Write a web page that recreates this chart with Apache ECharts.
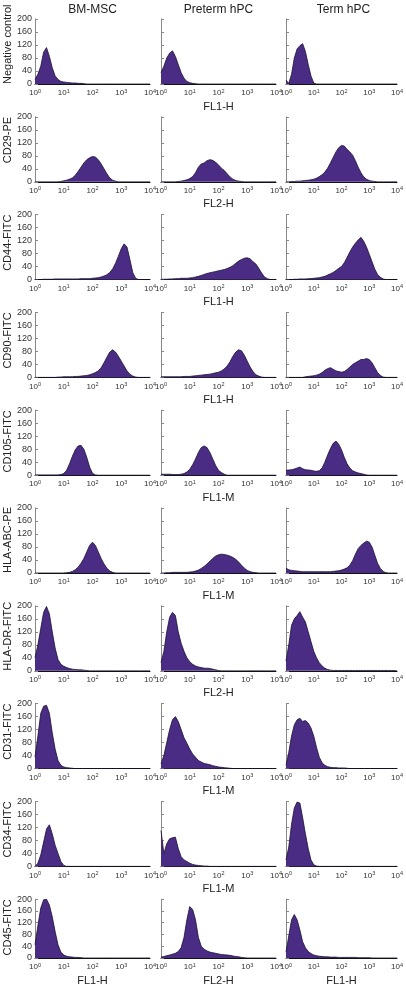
<!DOCTYPE html>
<html><head><meta charset="utf-8">
<script src="https://cdn.jsdelivr.net/npm/echarts@6/dist/echarts.min.js"></script>
<style>html,body{margin:0;padding:0;background:#fff}#c{width:406px;height:987px}</style>
</head><body><div id="c"></div>
<script>
// log10 of fluorescence channel (x positions of histogram samples)
const exponents = [0,0.1,0.2,0.3,0.4,0.5,0.6,0.7,0.8,0.9,1.0,1.1,1.2,1.3,1.4,1.5,1.6,1.7,1.8,1.9,2.0,2.1,2.2,2.3,2.4,2.5,2.6,2.7,2.8,2.9,3.0,3.1,3.2,3.3,3.4,3.5,3.6,3.7,3.8,3.9,4.0];
const columnTitles = ['BM-MSC', 'Preterm hPC', 'Term hPC'];
const rowLabels = ['Negative control','CD29-PE','CD44-FITC','CD90-FITC','CD105-FITC','HLA-ABC-PE','HLA-DR-FITC','CD31-FITC','CD34-FITC','CD45-FITC'];
const middleChannel = ['FL1-H','FL2-H','FL1-H','FL1-H','FL1-M','FL1-M','FL2-H','FL1-M','FL1-M','FL2-H'];
const bottomChannels = ['FL1-H','FL2-H','FL1-H'];
const yTicks = [0,40,80,120,160,200];

const neg_bm   = [15,30,55,98,112,85,50,25,14,8,6,5,4,3,3,2,2,1,0,0,0,0,0,0,0,0,0,0,0,0,0,0,0,0,0,0,0,0,0,0,0];
const neg_pre  = [35,55,80,95,102,85,60,35,18,8,4,2,1,0,0,0,0,0,0,0,0,0,0,0,0,0,0,0,0,0,0,0,0,0,0,0,0,0,0,0,0];
const neg_term = [12,2,30,80,108,118,124,100,60,25,3,0,0,0,0,0,0,0,0,0,0,0,0,0,0,0,0,0,0,0,0,0,0,0,0,0,0,0,0,0,0];

const cd29_bm   = [0,0,0,0,0,0,0,0,0,1,3,5,8,12,20,32,45,58,68,74,78,76,68,55,40,25,12,5,2,0,0,0,0,0,0,0,0,0,0,0,0];
const cd29_pre  = [0,0,0,0,0,0,1,2,4,6,10,16,28,45,55,58,65,68,66,60,52,42,35,25,15,8,4,2,1,0,0,0,0,0,0,0,0,0,0,0,0];
const cd29_term = [0,0,1,1,2,2,3,4,5,6,8,11,16,22,30,42,58,75,92,105,112,110,100,92,82,65,45,28,15,8,4,2,1,0,0,0,0,0,0,0,0];

const cd44_bm   = [0,0,0,1,1,1,1,2,2,2,2,2,2,2,2,2,3,3,3,3,4,5,6,8,11,15,22,33,50,72,95,110,100,62,22,4,0,0,0,0,0];
const cd44_pre  = [1,1,1,2,2,3,3,4,4,4,5,6,8,10,13,16,19,21,23,25,27,29,31,34,38,43,50,57,62,66,67,64,55,48,35,20,8,3,0,0,0];
const cd44_term = [0,0,0,1,1,2,2,2,3,3,4,5,6,8,10,14,18,22,28,35,40,52,68,85,100,112,122,130,118,100,78,55,32,16,7,2,0,0,0,0,0];

const cd90_bm   = [0,0,0,0,0,0,0,0,1,1,2,2,2,2,3,3,4,5,6,8,11,15,20,30,45,62,78,85,78,65,50,35,20,10,4,1,0,0,0,0,0];
const cd90_pre  = [2,2,2,2,2,2,2,2,3,3,3,4,5,6,7,8,9,10,12,14,16,20,26,35,48,65,78,85,82,68,50,32,18,8,4,1,0,0,0,0,0];
const cd90_term = [0,0,0,0,0,0,0,2,3,4,5,7,10,15,22,27,30,25,20,18,16,18,24,32,40,45,50,55,55,58,55,45,30,15,6,1,0,0,0,0,0];

const cd105_bm   = [1,1,1,1,1,1,1,1,1,2,5,15,35,58,78,90,92,80,55,25,6,1,0,0,0,0,0,0,0,0,0,0,0,0,0,0,0,0,0,0,0];
const cd105_pre  = [3,3,3,3,2,2,2,3,5,10,18,32,50,70,85,90,85,70,50,30,15,8,3,0,0,0,0,0,0,0,0,0,0,0,0,0,0,0,0,0,0];
const cd105_term = [15,16,17,19,22,25,20,17,16,15,13,12,14,22,40,62,82,98,105,95,78,55,35,22,14,10,7,5,3,1,0,0,0,0,0,0,0,0,0,0,0];

const hlaabc_bm   = [0,0,0,0,0,0,0,0,0,0,0,1,2,5,10,18,30,45,65,85,95,85,65,45,28,15,6,2,0,0,0,0,0,0,0,0,0,0,0,0,0];
const hlaabc_pre  = [0,0,1,1,2,2,2,2,2,2,3,4,6,9,14,20,28,36,45,52,56,58,57,55,52,48,42,34,24,15,8,4,2,1,0,0,0,0,0,0,0];
const hlaabc_term = [15,10,8,7,6,5,4,4,4,4,4,4,4,4,4,4,4,5,6,7,9,12,16,24,38,58,75,85,92,98,95,80,55,30,14,5,1,0,0,0,0];

const hladr_bm   = [40,80,130,180,198,175,120,70,35,20,14,10,7,5,4,3,3,2,1,0,0,0,0,0,0,0,0,0,0,0,0,0,0,0,0,0,0,0,0,0,0];
const hladr_pre  = [25,60,120,165,180,170,120,85,60,40,28,20,15,12,10,8,8,7,5,3,1,0,0,0,0,0,0,0,0,0,0,0,0,0,0,0,0,0,0,0,0];
const hladr_term = [30,80,140,160,170,182,165,150,120,90,60,40,25,15,8,4,2,1,1,1,1,1,1,1,1,1,1,1,1,1,1,1,1,1,1,1,1,1,1,1,0];

const cd31_bm   = [35,100,170,192,195,170,110,60,25,10,5,3,2,1,0,0,0,0,0,0,0,0,0,0,0,0,0,0,0,0,0,0,0,0,0,0,0,0,0,0,0];
const cd31_pre  = [15,40,80,120,150,160,145,120,95,78,60,45,35,25,20,16,14,12,9,7,5,4,3,2,1,0,0,0,0,0,0,0,0,0,0,0,0,0,0,0,0];
const cd31_term = [10,50,100,135,150,155,145,148,140,125,100,65,35,18,10,6,4,3,3,2,2,2,1,0,0,0,0,0,0,0,0,0,0,0,0,0,0,0,0,0,0];

const cd34_bm   = [0,10,35,75,115,128,100,65,40,15,3,0,0,0,0,0,0,0,0,0,0,0,0,0,0,0,0,0,0,0,0,0,0,0,0,0,0,0,0,0,0];
const cd34_pre  = [110,40,70,85,88,90,55,30,20,15,10,6,4,3,2,1,1,0,0,0,0,0,0,0,0,0,0,0,0,0,0,0,0,0,0,0,0,0,0,0,0];
const cd34_term = [20,60,130,180,198,195,150,100,55,20,5,1,0,0,0,0,0,0,0,0,0,0,0,0,0,0,0,0,0,0,0,0,0,0,0,0,0,0,0,0,0];

const cd45_bm   = [45,110,170,198,200,180,140,90,45,20,10,6,4,3,2,2,1,0,0,0,0,0,0,0,0,0,0,0,0,0,0,0,0,0,0,0,0,0,0,0,0];
const cd45_pre  = [3,5,8,10,13,16,22,35,70,130,175,165,130,70,40,30,24,20,18,16,14,12,11,10,9,7,5,4,2,1,0,0,0,0,0,0,0,0,0,0,0];
const cd45_term = [20,75,130,148,130,95,55,35,22,15,10,8,6,5,4,4,3,3,3,2,2,2,2,2,2,2,1,1,1,1,1,0,0,0,0,0,0,0,0,0,0];

const panels = [
  [neg_bm, neg_pre, neg_term],
  [cd29_bm, cd29_pre, cd29_term],
  [cd44_bm, cd44_pre, cd44_term],
  [cd90_bm, cd90_pre, cd90_term],
  [cd105_bm, cd105_pre, cd105_term],
  [hlaabc_bm, hlaabc_pre, hlaabc_term],
  [hladr_bm, hladr_pre, hladr_term],
  [cd31_bm, cd31_pre, cd31_term],
  [cd34_bm, cd34_pre, cd34_term],
  [cd45_bm, cd45_pre, cd45_term]
];

const FONT = '"Liberation Sans", Arial, sans-serif';
const colLeft = [35, 161, 286];
const plotW = 115;
const rowTop0 = 19, rowPitch = 97.8, plotH = 65;

const chart = echarts.init(document.getElementById('c'), null, {renderer: 'canvas'});
const grid = [], xAxis = [], yAxis = [], series = [], graphic = [];
const mctx = document.createElement('canvas').getContext('2d');

panels.forEach((row, r) => {
  const top = rowTop0 + r * rowPitch;
  row.forEach((vals, c) => {
    const k = grid.length;
    grid.push({left: colLeft[c], top: top, width: plotW, height: plotH});
    let name = '';
    if (r === panels.length - 1) name = bottomChannels[c];
    else if (c === 1) name = middleChannel[r];
    xAxis.push({
      type: 'log', logBase: 10, min: 1, max: 10000, gridIndex: k,
      axisLine: {show: true, onZero: false, lineStyle: {color: '#111', width: 1}},
      axisTick: {show: false}, splitLine: {show: false}, minorTick: {show: false},
      axisLabel: {
        show: true, margin: 4, color: '#333', fontFamily: FONT, fontSize: 8,
        formatter: v => '10{s|' + Math.round(Math.log10(v)) + '}',
        rich: {s: {fontSize: 5.5, fontFamily: FONT, color: '#333', verticalAlign: 'top', padding: [0, 0, 4, 0]}}
      },
      name: name, nameLocation: 'middle', nameGap: 17,
      nameTextStyle: {fontFamily: FONT, fontSize: 11, color: '#222'}
    });
    yAxis.push({
      type: 'value', min: yTicks[0], max: yTicks[yTicks.length - 1], interval: 40, gridIndex: k,
      axisLine: {show: true, onZero: false, lineStyle: {color: '#888', width: 1}},
      axisTick: {show: true, inside: true, length: 3, lineStyle: {color: '#888'}},
      splitLine: {show: false},
      axisLabel: {show: c === 0, margin: 3, color: '#333', fontFamily: FONT, fontSize: 9}
    });
    series.push({
      type: 'line', xAxisIndex: k, yAxisIndex: k, symbol: 'none', silent: true,
      data: exponents.map((e, i) => [Math.pow(10, e), vals[i]]),
      lineStyle: {color: '#1a1030', width: 0.8},
      areaStyle: {color: '#4b2c84', opacity: 1}
    });
  });
  // row label (rotated)
  const font = '11px ' + FONT;
  mctx.font = font;
  const len = mctx.measureText(rowLabels[r]).width;
  const bottom = top + plotH;
  const endY = Math.min(top, bottom - len);
  graphic.push({
    type: 'text', x: 8, y: endY, rotation: Math.PI / 2,
    style: {text: rowLabels[r], font: font, fill: '#222', align: 'right', verticalAlign: 'middle'}
  });
});

columnTitles.forEach((t, c) => {
  graphic.push({
    type: 'text', x: colLeft[c] + plotW / 2, y: 10,
    style: {text: t, font: '12px ' + FONT, fill: '#222', align: 'center', verticalAlign: 'middle'}
  });
});

chart.setOption({
  animation: false,
  backgroundColor: '#fff',
  grid, xAxis, yAxis, series, graphic
});
</script>
</body></html>
